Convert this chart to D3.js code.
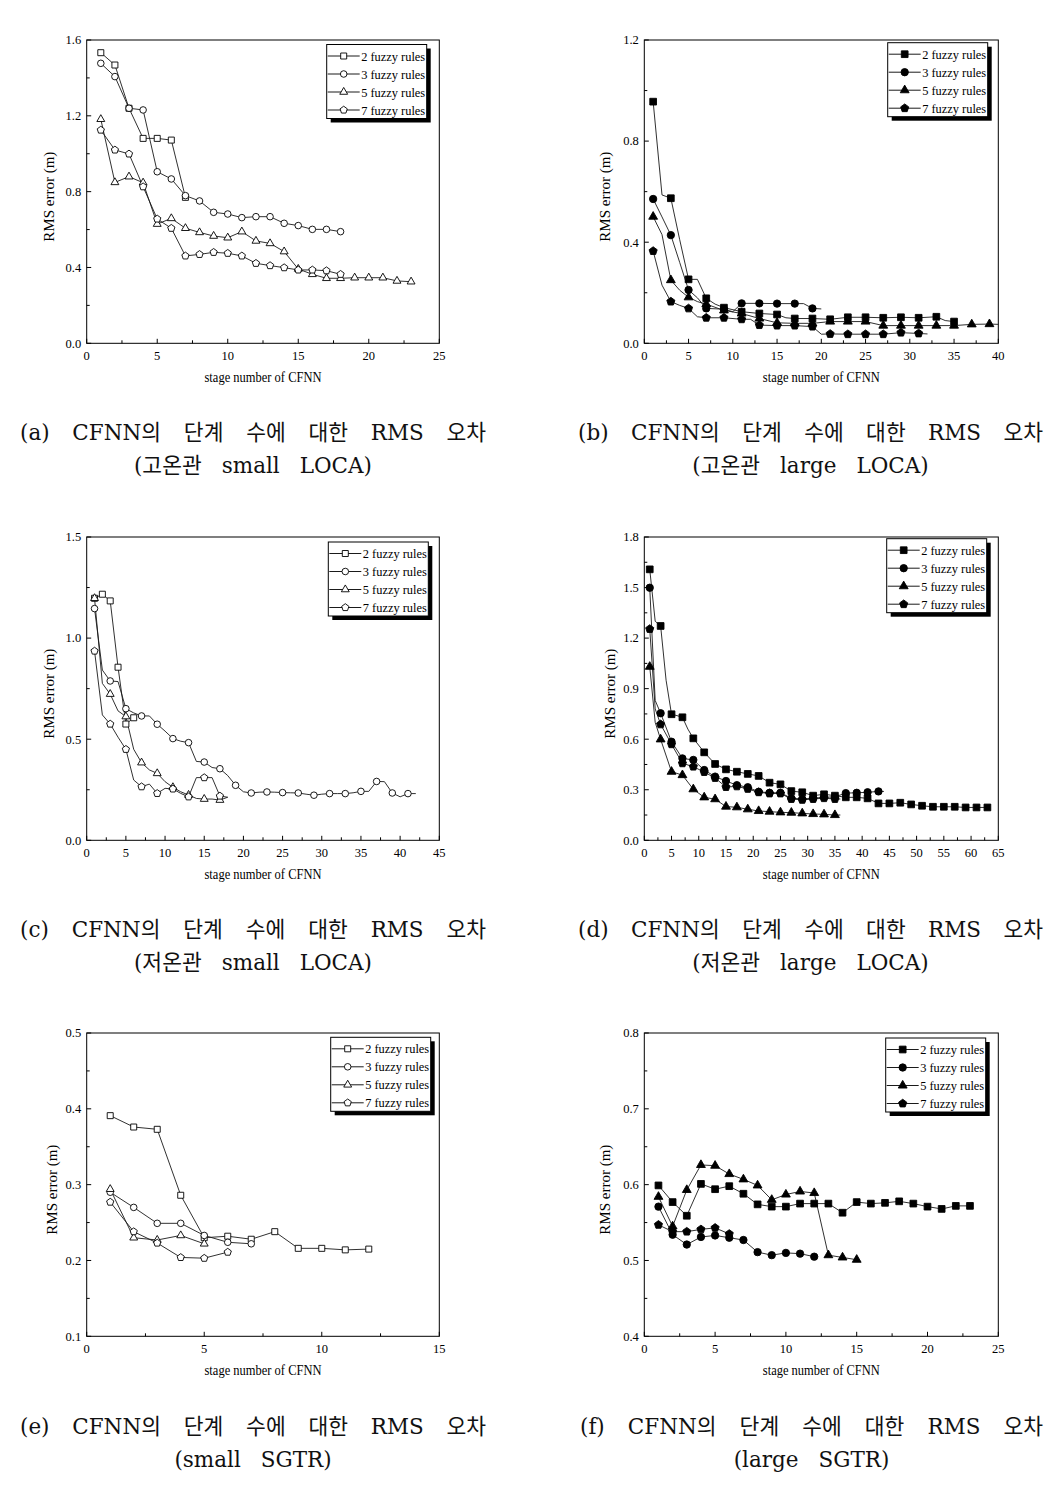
<!DOCTYPE html>
<html><head><meta charset="utf-8">
<script src="https://cdn.jsdelivr.net/npm/d3@7"></script>
<style>body{margin:0;background:#fff}svg{display:block}</style>
</head><body>
<svg id="c" width="1062" height="1487"></svg>
<script>
// ---------------- DATA ----------------
const seriesNames = ["2 fuzzy rules", "3 fuzzy rules", "5 fuzzy rules", "7 fuzzy rules"];
const xAxisTitle = "stage number of CFNN";
const yAxisTitle = "RMS error (m)";

// index i -> stage i+1 ; null = stage not read (line passes straight)
// (a) hot leg small LOCA
const aRule2 = [1.533, 1.468, 1.240, 1.081, 1.081, 1.072, 0.770];
const aRule3 = [1.477, 1.407, 1.240, 1.231, 0.905, 0.867, 0.779, 0.751, 0.691, 0.682, 0.663, 0.668, 0.668, 0.633, 0.621, 0.601, 0.601, 0.589];
const aRule5 = [1.182, 0.849, 0.879, 0.847, 0.629, 0.659, 0.607, 0.585, 0.566, 0.557, 0.589, 0.540, 0.527, 0.484, 0.392, 0.364, 0.343, 0.343, 0.346, 0.346, 0.346, 0.329, 0.325];
const aRule7 = [1.125, 1.020, 0.999, 0.826, 0.656, 0.607, 0.461, 0.469, 0.480, 0.475, 0.461, 0.422, 0.410, 0.399, 0.387, 0.387, 0.383, 0.364];
const aXTicks = [0, 5, 10, 15, 20, 25];
const aYTicks = [0.0, 0.4, 0.8, 1.2, 1.6];

// (b) hot leg large LOCA
const bRule2 = [0.956, 0.587, 0.574, 0.41, 0.253, 0.253, 0.178, 0.155, 0.141, null, 0.125, null, 0.118, null, 0.114, 0.101, 0.098, null, 0.098, null, 0.095, null, 0.103, null, 0.103, null, 0.101, null, 0.103, null, 0.101, null, 0.105, 0.09, 0.086];
const bRule3 = [0.571, 0.50, 0.428, 0.32, 0.211, 0.18, 0.138, null, 0.135, 0.125, 0.158, null, 0.158, null, 0.157, null, 0.157, 0.157, 0.138, 0.136];
const bRule5 = [0.501, 0.43, 0.25, 0.21, 0.182, 0.165, 0.155, null, 0.13, null, 0.118, null, 0.098, null, 0.081, null, 0.079, null, 0.079, null, 0.086, null, 0.086, null, 0.086, null, 0.07, null, 0.07, null, 0.07, null, 0.07, null, 0.07, null, 0.075, null, 0.076, 0.075];
const bRule7 = [0.365, 0.23, 0.165, 0.15, 0.138, 0.105, 0.101, null, 0.101, null, 0.095, 0.095, 0.072, null, 0.07, null, 0.07, null, 0.066, 0.036, 0.037, null, 0.036, null, 0.036, null, 0.036, null, 0.042, null, 0.039, 0.037];
const bXTicks = [0, 5, 10, 15, 20, 25, 30, 35, 40];
const bYTicks = [0.0, 0.4, 0.8, 1.2];

// (c) cold leg small LOCA
const cRule2 = [1.197, 1.217, 1.184, 0.856, 0.575, 0.606];
const cRule3 = [1.146, 0.842, 0.788, 0.785, 0.651, 0.63, 0.615, 0.615, 0.574, 0.54, 0.503, 0.49, 0.483, 0.39, 0.387, 0.36, 0.354, 0.32, 0.272, 0.24, 0.234, 0.238, 0.239, 0.238, 0.236, 0.235, 0.234, 0.228, 0.223, 0.228, 0.231, 0.231, 0.231, 0.235, 0.242, 0.242, 0.291, 0.29, 0.234, 0.215, 0.231, 0.231];
const cRule5 = [1.197, 0.776, 0.723, 0.64, 0.612, 0.45, 0.384, 0.348, 0.331, 0.29, 0.262, 0.24, 0.224, 0.207, 0.204, 0.204, 0.199, 0.213];
const cRule7 = [0.936, 0.62, 0.575, 0.51, 0.45, 0.298, 0.265, 0.278, 0.232, 0.257, 0.254, 0.232, 0.215, 0.31, 0.31, 0.31, 0.219, 0.213];
const cXTicks = [0, 5, 10, 15, 20, 25, 30, 35, 40, 45];
const cYTicks = [0.0, 0.5, 1.0, 1.5];

// (d) cold leg large LOCA
const dRule2 = [1.608, 1.30, 1.272, 0.95, 0.748, 0.74, 0.730, 0.66, 0.605, null, 0.522, null, 0.453, null, 0.421, null, 0.407, null, 0.394, null, 0.382, null, 0.342, null, 0.332, null, 0.292, null, 0.285, null, 0.265, null, 0.273, null, 0.265, null, 0.255, null, 0.255, null, 0.249, null, 0.219, null, 0.219, null, 0.223, null, 0.213, null, 0.205, null, 0.199, null, 0.199, null, 0.199, null, 0.195, null, 0.195, null, 0.195];
const dRule3 = [1.499, 0.83, 0.754, null, 0.585, null, 0.486, null, 0.477, null, 0.417, null, 0.378, null, 0.352, null, 0.327, null, 0.315, null, 0.288, null, 0.282, null, 0.282, null, 0.25, null, 0.245, null, 0.25, null, 0.255, null, 0.258, null, 0.28, null, 0.282, null, 0.285, null, 0.29, 0.29];
const dRule5 = [1.03, 0.70, 0.599, null, 0.407, null, 0.387, null, 0.303, null, 0.255, null, 0.244, null, 0.20, null, 0.196, null, 0.184, null, 0.174, null, 0.17, null, 0.166, null, 0.164, null, 0.16, null, 0.156, null, 0.154, null, 0.15, 0.15];
const dRule7 = [1.254, 0.78, 0.688, null, 0.57, null, 0.457, null, 0.437, null, 0.405, null, 0.37, null, 0.316, null, 0.32, null, 0.305, null, 0.285, null, 0.278, null, 0.278, null, 0.245, null, 0.24, null, 0.245, null, 0.25, null, 0.245, 0.245];
const dXTicks = [0, 5, 10, 15, 20, 25, 30, 35, 40, 45, 50, 55, 60, 65];
const dYTicks = [0.0, 0.3, 0.6, 0.9, 1.2, 1.5, 1.8];

// (e) small SGTR
const eRule2 = [0.391, 0.376, 0.373, 0.286, 0.230, 0.232, 0.228, 0.238, 0.216, 0.216, 0.214, 0.215];
const eRule3 = [0.290, 0.270, 0.249, 0.249, 0.233, 0.224, 0.222];
const eRule5 = [0.294, 0.230, 0.227, 0.233, 0.222];
const eRule7 = [0.277, 0.238, 0.223, 0.204, 0.203, 0.211];
const eXTicks = [0, 5, 10, 15];
const eYTicks = [0.1, 0.2, 0.3, 0.4, 0.5];

// (f) large SGTR
const fRule2 = [0.599, 0.577, 0.559, 0.601, 0.594, 0.598, 0.588, 0.574, 0.571, 0.571, 0.575, 0.575, 0.575, 0.563, 0.577, 0.575, 0.576, 0.578, 0.575, 0.571, 0.568, 0.572, 0.572];
const fRule3 = [0.571, 0.534, 0.521, 0.531, 0.533, 0.530, 0.527, 0.511, 0.507, 0.510, 0.509, 0.505];
const fRule5 = [0.584, 0.545, 0.593, 0.626, 0.625, 0.614, 0.607, 0.599, 0.580, 0.587, 0.591, 0.589, 0.507, 0.504, 0.501];
const fRule7 = [0.547, 0.538, 0.538, 0.541, 0.543, 0.535];
const fXTicks = [0, 5, 10, 15, 20, 25];
const fYTicks = [0.4, 0.5, 0.6, 0.7, 0.8];

const captionLine1 = ["(a) CFNN의 단계 수에 대한 RMS 오차", "(b) CFNN의 단계 수에 대한 RMS 오차",
  "(c) CFNN의 단계 수에 대한 RMS 오차", "(d) CFNN의 단계 수에 대한 RMS 오차",
  "(e) CFNN의 단계 수에 대한 RMS 오차", "(f) CFNN의 단계 수에 대한 RMS 오차"];
const captionLine2 = ["(고온관 small LOCA)", "(고온관 large LOCA)", "(저온관 small LOCA)",
  "(저온관 large LOCA)", "(small SGTR)", "(large SGTR)"];

// ---------------- LAYOUT / STYLE ----------------
const panels = [
  {series:[aRule2,aRule3,aRule5,aRule7], xt:aXTicks, yt:aYTicks, l:86.7, r:439.3, t:40, b:343.3, cx0:20, cx1:486, cy:440, filled:false, every:[1,1,1,1], lg:[112.6,4.5], ytOff:38},
  {series:[bRule2,bRule3,bRule5,bRule7], xt:bXTicks, yt:bYTicks, l:644.3, r:998.3, t:40, b:343.3, cx0:578, cx1:1043, cy:440, filled:true, every:[2,2,2,2], lg:[110.6,2.7], ytOff:39},
  {series:[cRule2,cRule3,cRule5,cRule7], xt:cXTicks, yt:cYTicks, l:86.7, r:439.3, t:537, b:840.3, cx0:20, cx1:486, cy:937, filled:false, every:[1,2,2,2], lg:[111,5], ytOff:38},
  {series:[dRule2,dRule3,dRule5,dRule7], xt:dXTicks, yt:dYTicks, l:644.3, r:998.3, t:537, b:840.3, cx0:578, cx1:1043, cy:937, filled:true, every:[2,2,2,2], lg:[111.6,1.7], ytOff:34},
  {series:[eRule2,eRule3,eRule5,eRule7], xt:eXTicks, yt:eYTicks, l:86.7, r:439.3, t:1033, b:1336.3, cx0:20, cx1:486, cy:1434, filled:false, every:[1,1,1,1], lg:[108.6,4.3], ytOff:35},
  {series:[fRule2,fRule3,fRule5,fRule7], xt:fXTicks, yt:fYTicks, l:644.3, r:998.3, t:1033, b:1336.3, cx0:580, cx1:1043, cy:1434, filled:true, every:[1,1,1,1], lg:[112.6,5], ytOff:39}
];

const serif = "'Liberation Serif','Times New Roman',serif";
const capFont = "'DejaVu Serif','Noto Sans CJK KR',serif";
const svg = d3.select("#c");

function markerPath(kind, filled) {
  const s = filled ? 1.12 : 1;
  if (kind === 0) return d3.symbol(d3.symbolSquare, 36 * s * s)();
  if (kind === 1) return d3.symbol(d3.symbolCircle, 34 * s * s)();
  if (kind === 2) return d3.symbol(d3.symbolTriangle, 27 * s * s)();
  const r = 3.8 * s;
  const pts = d3.range(5).map(k => {
    const a = -Math.PI / 2 + k * 2 * Math.PI / 5;
    return [(r * Math.cos(a)).toFixed(2), (r * Math.sin(a)).toFixed(2)];
  });
  return "M" + pts.join("L") + "Z";
}

const fmt = d3.format(".1f");

panels.forEach((p, pi) => {
  const g = svg.append("g");
  const x = d3.scaleLinear().domain([p.xt[0], p.xt[p.xt.length - 1]]).range([p.l, p.r]);
  const y = d3.scaleLinear().domain([p.yt[0], p.yt[p.yt.length - 1]]).range([p.b, p.t]);

  // frame
  g.append("rect").attr("x", p.l).attr("y", p.t).attr("width", p.r - p.l).attr("height", p.b - p.t)
    .attr("fill", "none").attr("stroke", "#000").attr("stroke-width", 1);

  // ticks (inward), major + minor halves
  const xStep = p.xt[1] - p.xt[0], yStep = p.yt[1] - p.yt[0];
  const xMinor = p.xt.slice(0, -1).map(v => v + xStep / 2);
  const yMinor = p.yt.slice(0, -1).map(v => v + yStep / 2);
  const tk = g.append("g").attr("stroke", "#000").attr("stroke-width", 1);
  p.xt.forEach(v => tk.append("line").attr("x1", x(v)).attr("x2", x(v)).attr("y1", p.b).attr("y2", p.b - 4.5));
  xMinor.forEach(v => tk.append("line").attr("x1", x(v)).attr("x2", x(v)).attr("y1", p.b).attr("y2", p.b - 3));
  p.yt.forEach(v => tk.append("line").attr("y1", y(v)).attr("y2", y(v)).attr("x1", p.l).attr("x2", p.l + 4.5));
  yMinor.forEach(v => tk.append("line").attr("y1", y(v)).attr("y2", y(v)).attr("x1", p.l).attr("x2", p.l + 3));

  // tick labels
  p.xt.forEach(v => g.append("text").attr("x", x(v)).attr("y", p.b + 16.5).attr("text-anchor", "middle")
    .attr("font-family", serif).attr("font-size", 12.5).text(v));
  p.yt.forEach(v => g.append("text").attr("x", p.l - 5.5).attr("y", y(v) + 4.3).attr("text-anchor", "end")
    .attr("font-family", serif).attr("font-size", 12.5).text(fmt(v)));

  // axis titles
  g.append("text").attr("x", (p.l + p.r) / 2).attr("y", p.b + 38.5).attr("text-anchor", "middle")
    .attr("font-family", serif).attr("font-size", 15).attr("textLength", 117).attr("lengthAdjust", "spacingAndGlyphs")
    .text(xAxisTitle);
  const ycx = p.l - p.ytOff, ycy = (p.t + p.b) / 2 + 5;
  g.append("text").attr("transform", `translate(${ycx},${ycy}) rotate(-90)`).attr("dy", "0.35em")
    .attr("text-anchor", "middle").attr("font-family", serif).attr("font-size", 14.5)
    .attr("textLength", 90).attr("lengthAdjust", "spacingAndGlyphs").text(yAxisTitle);

  // series
  const line = d3.line().x(d => x(d[0])).y(d => y(d[1]));
  p.series.forEach((arr, si) => {
    const pts = arr.map((v, i) => [i + 1, v]).filter(d => d[1] !== null);
    g.append("path").attr("d", line(pts)).attr("fill", "none").attr("stroke", "#1a1a1a").attr("stroke-width", 0.9);
  });
  p.series.forEach((arr, si) => {
    const pts = arr.map((v, i) => [i + 1, v]).filter(d => d[1] !== null && (d[0] - 1) % p.every[si] === 0);
    g.append("g").selectAll("path").data(pts).join("path")
      .attr("transform", d => `translate(${x(d[0])},${y(d[1])})`)
      .attr("d", markerPath(si, p.filled))
      .attr("fill", p.filled ? "#000" : "#fff").attr("stroke", "#000").attr("stroke-width", 0.9);
  });

  // legend
  const lx = p.r - p.lg[0], ly = p.t + p.lg[1], lw = 100, lh = 74;
  g.append("rect").attr("x", lx + 4).attr("y", ly + 4).attr("width", lw).attr("height", lh).attr("fill", "#000");
  g.append("rect").attr("x", lx).attr("y", ly).attr("width", lw).attr("height", lh).attr("fill", "#fff")
    .attr("stroke", "#000").attr("stroke-width", 1);
  seriesNames.forEach((name, si) => {
    const ry = ly + 11.5 + si * 18;
    g.append("line").attr("x1", lx + 1).attr("x2", lx + 33).attr("y1", ry).attr("y2", ry)
      .attr("stroke", "#000").attr("stroke-width", 0.9);
    g.append("path").attr("transform", `translate(${lx + 17},${ry})`).attr("d", markerPath(si, p.filled))
      .attr("fill", p.filled ? "#000" : "#fff").attr("stroke", "#000").attr("stroke-width", 0.9);
    g.append("text").attr("x", lx + 34.5).attr("y", ry + 4.5).attr("font-family", serif).attr("font-size", 13.5)
      .attr("textLength", 64).attr("lengthAdjust", "spacingAndGlyphs").text(name);
  });

  // caption, line 1 justified
  const words = captionLine1[pi].split(" ");
  const cg = g.append("g").attr("font-family", capFont).attr("font-size", 21.5).attr("fill", "#111");
  const tnodes = words.map(w => cg.append("text").attr("y", p.cy).text(w));
  const widths = tnodes.map(t => t.node().getComputedTextLength());
  const gap = (p.cx1 - p.cx0 - d3.sum(widths)) / (words.length - 1);
  let cx = p.cx0;
  tnodes.forEach((t, i) => { t.attr("x", cx); cx += widths[i] + gap; });
  // line 2 centered, fixed word gap
  const gap2 = 20;
  const w2 = captionLine2[pi].split(" ");
  const t2 = w2.map(w => cg.append("text").attr("y", p.cy + 33).text(w));
  const wd2 = t2.map(t => t.node().getComputedTextLength());
  const tot2 = d3.sum(wd2) + gap2 * (w2.length - 1);
  let cx2 = (p.cx0 + p.cx1) / 2 - tot2 / 2;
  t2.forEach((t, i) => { t.attr("x", cx2); cx2 += wd2[i] + gap2; });
});
</script>
</body></html>
